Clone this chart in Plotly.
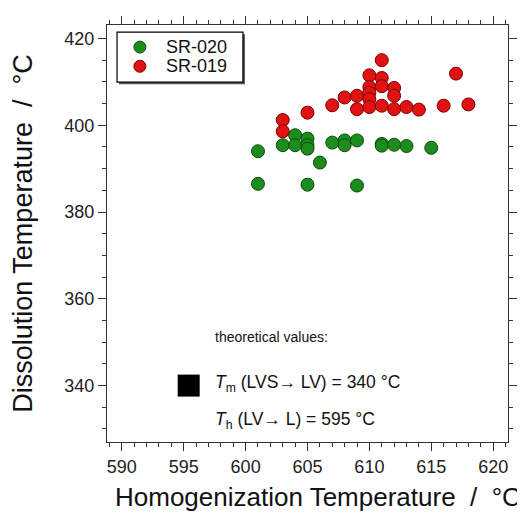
import plotly.graph_objects as go

# SR-020 inclusions (green)
sr020_th = [601, 601, 603, 604, 604, 605, 605, 605, 605, 606, 607, 608, 608,
            609, 609, 611, 611, 612, 613, 615]
sr020_td = [394.0, 386.5, 395.4, 397.7, 395.4, 396.9, 395.4, 394.6, 386.3, 391.4,
            396.0, 396.5, 395.4, 396.5, 386.1, 395.7, 395.3, 395.5, 395.2, 394.8]

# SR-019 inclusions (red)
sr019_th = [603, 603, 605, 607, 608, 609, 609, 610, 610, 610, 610, 610,
            611, 611, 611, 611, 612, 612, 612, 613, 614, 616, 617, 618]
sr019_td = [401.2, 398.6, 402.9, 404.6, 406.4, 406.8, 403.7, 411.5, 408.8, 407.5,
            406.0, 404.2, 415.0, 410.9, 409.0, 404.5, 408.6, 406.8, 403.7, 404.2,
            403.6, 404.5, 411.9, 404.8]

# theoretical values
theo_th = [595.4]
theo_td = [340]

series_names = ["SR-020", "SR-019"]
series_fill = ["#1c8c1c", "#e01212"]
series_edge = ["#0d4d0d", "#7a0000"]

font = "Arial, Liberation Sans, sans-serif"
sp = "\u00a0"

fig = go.Figure()
fig.add_trace(go.Scatter(
    x=sr020_th, y=sr020_td, mode="markers", name=series_names[0],
    marker=dict(size=13, color=series_fill[0], line=dict(color=series_edge[0], width=1))
))
fig.add_trace(go.Scatter(
    x=sr019_th, y=sr019_td, mode="markers", name=series_names[1],
    marker=dict(size=13, color=series_fill[1], line=dict(color=series_edge[1], width=1))
))
fig.add_trace(go.Scatter(
    x=theo_th, y=theo_td, mode="markers",
    marker=dict(size=22, symbol="square", color="black")
))

axis_common = dict(
    showline=True, linecolor="#333", linewidth=1, mirror="allticks",
    ticks="outside", ticklen=8, tickcolor="#333", showgrid=False, zeroline=False,
    automargin=False, tickfont=dict(family=font, size=18, color="#222"),
)
fig.update_xaxes(
    range=[588.8, 621.2], tickvals=[590, 595, 600, 605, 610, 615, 620],
    minor=dict(ticks="outside", dtick=1, ticklen=4, tickcolor="#333"),
    **axis_common
)
fig.update_yaxes(
    range=[327, 423.1], tickvals=[340, 360, 380, 400, 420],
    minor=dict(ticks="outside", dtick=5, ticklen=4, tickcolor="#333"),
    title=dict(text=f"Dissolution Temperature{sp}{sp}/{sp}{sp}°C",
               font=dict(family=font, size=27, color="#111"), standoff=24),
    **axis_common
)

# x axis title, sits a bit right of centre in the original
fig.add_annotation(xref="paper", yref="paper", x=0.526, y=-0.132,
                   text=f"Homogenization Temperature{sp}{sp}/{sp}{sp}°C",
                   showarrow=False, xanchor="center", yanchor="middle",
                   font=dict(family=font, size=26, color="#111"))

fig.add_annotation(x=597.4, y=351.3, text="theoretical values:", showarrow=False,
                   xanchor="left", font=dict(family=font, size=14, color="#111"))
t_font = dict(family=font, size=17.5, color="#111")
fig.add_annotation(x=597.4, y=340.4, text="<i>T</i><sub>m</sub> (LVS→ LV) = 340 °C",
                   showarrow=False, xanchor="left", font=t_font)
fig.add_annotation(x=597.4, y=332.0, text="<i>T</i><sub>h</sub> (LV→ L) = 595 °C",
                   showarrow=False, xanchor="left", font=t_font)

# legend box drawn by hand (tight spacing and drop shadow like the original)
fig.add_shape(type="rect", xref="paper", yref="paper",
              x0=0.030, x1=0.344, y0=0.858, y1=0.978,
              fillcolor="#555", line=dict(width=0), layer="above")
fig.add_shape(type="rect", xref="paper", yref="paper",
              x0=0.025, x1=0.339, y0=0.863, y1=0.983,
              fillcolor="white", line=dict(color="black", width=1.2), layer="above")
for i, name in enumerate(series_names):
    ypos = 0.947 - i * 0.046
    fig.add_shape(type="circle", xref="paper", yref="paper",
                  xsizemode="pixel", ysizemode="pixel", xanchor=0.082, yanchor=ypos,
                  x0=-6, x1=6, y0=-6, y1=6, fillcolor=series_fill[i],
                  line=dict(color=series_edge[i], width=1), layer="above")
    fig.add_annotation(xref="paper", yref="paper", x=0.142, y=ypos, text=name,
                       showarrow=False, xanchor="left", yanchor="middle",
                       font=dict(family=font, size=18, color="#111"))

# page body adds an 8px margin, so the figure is 8px smaller than the window
fig.update_layout(
    width=517, height=507,
    margin=dict(l=99, r=17, t=17, b=73),
    plot_bgcolor="white", paper_bgcolor="white",
    showlegend=False,
)
fig.write_html("out.html")
